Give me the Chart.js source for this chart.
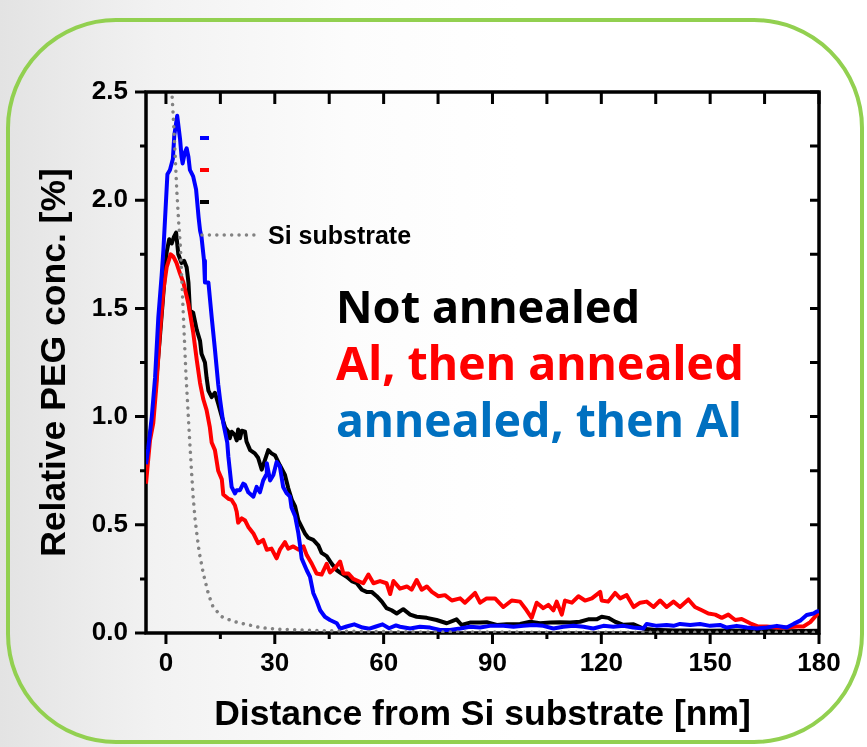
<!DOCTYPE html>
<html>
<head>
<meta charset="utf-8">
<script src="https://cdn.jsdelivr.net/npm/chart.js@4/dist/chart.umd.min.js"></script>
<style>
  html, body { margin: 0; padding: 0; }
  body {
    width: 867px; height: 747px; overflow: hidden; position: relative;
    background: linear-gradient(90deg, #e3e3e3 0%, #f2f2f2 18%, #fcfcfc 40%, #ffffff 60%);
  }
  #border {
    position: absolute; left: 6px; top: 18px; width: 858px; height: 726px;
    box-sizing: border-box; border: 4px solid #92d050; border-radius: 110px;
  }
  #wrap { position: absolute; left: 0; top: 0; width: 867px; height: 747px; }
</style>
</head>
<body>
<div id="border"></div>
<div id="wrap"><canvas id="chart" width="867" height="747"></canvas></div>
<script>
// Depth profiles of relative PEG concentration (%) vs distance from the Si substrate (nm)

const notAnnealedX = [-5.5, -4.4, -3.5, -2.6, -1.7, -0.8, 0.2, 0.9, 1.6, 2.2, 2.8, 3.4, 4.3, 5.0, 5.7, 6.2, 6.6, 7.5, 8.5, 9.4, 9.8, 10.75, 11.2, 11.7, 12.6, 13.5, 14.4, 15.4, 16.3, 17.2, 17.6, 18.1, 19.0, 19.5, 19.9, 20.4, 20.9, 21.8, 22.2, 23.2, 24.5, 25.4, 26.4, 27.3, 28.2, 29.1, 30.1, 31.4, 32.8, 33.7, 34.7, 35.6, 36.5, 37.4, 38.3, 39.2, 40.6, 42.0, 42.9, 44.3, 45.7, 47.1, 48.4, 49.8, 51.2, 52.6, 54.0, 55.3, 56.7, 58.1, 59.5, 60.8, 62.2, 63.6, 65.4, 67.3, 69.1, 71.9, 74.6, 77.4, 80.1, 81.5, 83.8, 86.6, 88.4, 91.2, 93.9, 97.6, 100.4, 103.1, 105.9, 108.6, 111.4, 114.1, 116.4, 118.7, 120.1, 121.9, 123.8, 126.1, 128.9, 131.6, 134.4, 140, 145, 150, 155, 160, 165, 170, 175, 180];
const notAnnealedY = [0.78, 0.91, 1.02, 1.18, 1.36, 1.55, 1.76, 1.82, 1.80, 1.83, 1.85, 1.75, 1.71, 1.72, 1.69, 1.62, 1.49, 1.48, 1.40, 1.35, 1.29, 1.25, 1.18, 1.12, 1.09, 1.11, 1.06, 1.00, 0.95, 0.93, 0.90, 0.93, 0.915, 0.89, 0.94, 0.90, 0.935, 0.93, 0.885, 0.845, 0.83, 0.81, 0.755, 0.80, 0.845, 0.83, 0.82, 0.775, 0.73, 0.67, 0.615, 0.585, 0.52, 0.49, 0.46, 0.44, 0.43, 0.405, 0.37, 0.355, 0.32, 0.29, 0.275, 0.26, 0.24, 0.23, 0.20, 0.19, 0.19, 0.17, 0.145, 0.115, 0.105, 0.09, 0.11, 0.085, 0.075, 0.07, 0.06, 0.045, 0.063, 0.037, 0.048, 0.048, 0.05, 0.037, 0.04, 0.042, 0.052, 0.045, 0.048, 0.05, 0.048, 0.052, 0.063, 0.063, 0.075, 0.07, 0.052, 0.038, 0.04, 0.02, 0.015, 0.012, 0.011, 0.01, 0.012, 0.01, 0.009, 0.008, 0.009, 0.01];

const alThenAnnealedX = [-5.5, -4.9, -4.4, -3.5, -2.6, -1.65, -0.7, 0.2, 1.3, 2.0, 2.9, 3.9, 4.8, 6.2, 7.5, 8.5, 9.4, 10.3, 11.2, 12.1, 12.6, 13.5, 14.4, 15.4, 15.8, 17.2, 18.1, 19.0, 19.5, 19.9, 20.9, 21.8, 22.7, 24.1, 25.4, 26.8, 27.8, 29.1, 30.5, 31.4, 32.8, 33.7, 35.1, 36.5, 37.9, 38.8, 40.2, 41.5, 42.9, 44.3, 45.2, 46.6, 48.0, 48.9, 50.3, 51.6, 53.0, 54.4, 55.8, 57.2, 59.0, 60.8, 61.8, 62.7, 64.5, 66.4, 67.7, 69.1, 70.5, 71.9, 73.3, 75.1, 76.9, 78.8, 81.1, 82.4, 85.2, 86.6, 88.4, 90.7, 93.0, 95.3, 97.6, 99.4, 100.8, 102.2, 104.0, 105.4, 106.8, 107.7, 109.1, 110.0, 111.9, 113.7, 115.5, 117.4, 119.7, 120.1, 121.9, 123.8, 125.2, 127.0, 128.9, 130.7, 132.5, 134.4, 136.2, 138.0, 139.9, 141.7, 144.0, 145.8, 147.7, 149.5, 151.4, 153.2, 155.0, 156.9, 158.7, 161.0, 163.3, 165.6, 168.4, 171.1, 173.9, 175.7, 177.6, 179.4, 180];
const alThenAnnealedY = [0.69, 0.80, 0.89, 0.97, 1.15, 1.39, 1.585, 1.69, 1.75, 1.74, 1.71, 1.66, 1.62, 1.52, 1.39, 1.26, 1.155, 1.08, 1.03, 0.95, 0.88, 0.845, 0.75, 0.71, 0.64, 0.62, 0.615, 0.59, 0.56, 0.51, 0.53, 0.52, 0.49, 0.46, 0.415, 0.43, 0.385, 0.39, 0.345, 0.385, 0.42, 0.39, 0.40, 0.385, 0.40, 0.36, 0.32, 0.275, 0.27, 0.32, 0.28, 0.30, 0.33, 0.275, 0.275, 0.25, 0.24, 0.23, 0.27, 0.23, 0.24, 0.23, 0.18, 0.24, 0.205, 0.215, 0.20, 0.245, 0.20, 0.215, 0.19, 0.17, 0.175, 0.15, 0.16, 0.14, 0.185, 0.14, 0.16, 0.16, 0.12, 0.15, 0.145, 0.105, 0.07, 0.14, 0.115, 0.13, 0.105, 0.145, 0.085, 0.15, 0.14, 0.17, 0.15, 0.16, 0.19, 0.15, 0.145, 0.185, 0.16, 0.175, 0.12, 0.14, 0.145, 0.12, 0.15, 0.12, 0.145, 0.12, 0.155, 0.12, 0.105, 0.09, 0.085, 0.07, 0.085, 0.06, 0.065, 0.045, 0.03, 0.03, 0.025, 0.025, 0.03, 0.03, 0.05, 0.085, 0.095];

const annealedThenAlX = [-5.5, -4.9, -3.9, -3.0, -2.1, -1.2, -0.7, 0.4, 1.1, 1.9, 2.3, 3.1, 3.9, 4.3, 4.6, 5.2, 5.7, 6.2, 6.6, 7.5, 8.3, 9.0, 9.4, 9.8, 10.5, 10.75, 11.7, 12.6, 13.5, 14.4, 14.9, 15.8, 16.9, 17.2, 18.1, 19.0, 19.5, 20.4, 21.3, 21.8, 22.7, 23.4, 24.1, 25.0, 25.9, 26.8, 27.6, 27.8, 28.7, 29.6, 30.5, 31.4, 32.3, 33.3, 34.2, 34.6, 35.6, 36.5, 37.0, 37.4, 38.8, 39.7, 40.6, 41.5, 42.5, 43.8, 45.2, 47.1, 48.0, 49.8, 51.9, 54.2, 56.1, 57.9, 59.7, 61.5, 63.4, 64.5, 67.3, 70.0, 72.8, 75.5, 78.3, 81.1, 83.8, 86.6, 89.3, 93.0, 95.8, 98.5, 101.3, 104.0, 106.8, 109.5, 112.3, 115.1, 117.8, 120.6, 123.3, 126.1, 128.8, 131.6, 132.5, 135.3, 138.0, 139.9, 141.7, 144.5, 147.2, 150.0, 152.7, 154.6, 157.3, 160.1, 162.9, 165.6, 168.4, 171.1, 173.0, 174.8, 176.6, 178.5, 179.4, 180];
const annealedThenAlY = [0.78, 0.85, 1.00, 1.18, 1.46, 1.65, 1.77, 2.12, 2.14, 2.19, 2.30, 2.39, 2.28, 2.20, 2.17, 2.22, 2.24, 2.20, 2.14, 2.11, 2.05, 1.92, 1.86, 1.83, 1.72, 1.62, 1.62, 1.46, 1.31, 1.15, 1.08, 0.97, 0.88, 0.815, 0.675, 0.645, 0.66, 0.66, 0.69, 0.685, 0.65, 0.64, 0.63, 0.675, 0.65, 0.705, 0.73, 0.785, 0.705, 0.73, 0.79, 0.77, 0.675, 0.645, 0.63, 0.58, 0.54, 0.46, 0.40, 0.345, 0.29, 0.26, 0.185, 0.15, 0.105, 0.075, 0.06, 0.045, 0.02, 0.03, 0.04, 0.025, 0.02, 0.03, 0.04, 0.022, 0.035, 0.029, 0.021, 0.029, 0.025, 0.014, 0.014, 0.021, 0.029, 0.025, 0.033, 0.033, 0.029, 0.033, 0.037, 0.033, 0.021, 0.029, 0.033, 0.029, 0.021, 0.033, 0.029, 0.033, 0.025, 0.021, 0.042, 0.033, 0.037, 0.033, 0.042, 0.037, 0.042, 0.033, 0.037, 0.025, 0.033, 0.025, 0.021, 0.025, 0.033, 0.025, 0.042, 0.057, 0.083, 0.09, 0.099, 0.10];

const siSubstrateX = [1.2, 1.7, 2.0, 2.5, 3.0, 3.5, 4.0, 4.5, 5.0, 5.5, 6.0, 6.5, 7.0, 7.5, 8.0, 8.5, 9.2, 10.3, 11.7, 13.0, 15.4, 17.6, 19.9, 22.2, 25.9, 31.4, 38.8, 50, 70, 100, 140, 180];
const siSubstrateY = [2.75, 2.48, 2.39, 2.22, 2.04, 1.90, 1.78, 1.58, 1.39, 1.20, 1.05, 0.90, 0.76, 0.63, 0.53, 0.46, 0.37, 0.275, 0.18, 0.12, 0.075, 0.06, 0.048, 0.04, 0.025, 0.017, 0.013, 0.008, 0.005, 0.004, 0.003, 0.003];

// Axis ticks
const xTickValues = [0, 30, 60, 90, 120, 150, 180];
const xMinorValues = [15, 45, 75, 105, 135, 165];
const yTickValues = [0, 0.5, 1.0, 1.5, 2.0, 2.5];
const yMinorValues = [0.25, 0.75, 1.25, 1.75, 2.25];

// Labels
const seriesLabels = ['Not annealed', 'Al, then annealed', 'annealed, then Al'];
const seriesColors = ['#000000', '#ff0000', '#0000ff'];
const captionColors = ['#000000', '#ff0000', '#0070c0'];
const refLabel = 'Si substrate';

const pts = (xs, ys) => xs.map((x, i) => ({ x, y: ys[i] }));
const AXIS_FONT = '"Liberation Sans", Arial, sans-serif';
const DOT_GREY = '#828282';
const DOTS = [0.01, 7.4];

// Box frame with Origin-style ticks on all four sides (curves are drawn over it)
const axisFrame = {
  id: 'axisFrame',
  beforeDatasetsDraw(chart) {
    const { ctx, chartArea: a, scales: { x, y } } = chart;
    ctx.save();
    ctx.strokeStyle = '#000';
    ctx.lineCap = 'butt';
    ctx.lineWidth = 3;
    ctx.beginPath();
    xTickValues.forEach(v => { const p = x.getPixelForValue(v); ctx.moveTo(p, a.bottom); ctx.lineTo(p, a.bottom + 11); });
    xMinorValues.forEach(v => { const p = x.getPixelForValue(v); ctx.moveTo(p, a.bottom); ctx.lineTo(p, a.bottom + 6); });
    xTickValues.concat(xMinorValues).forEach(v => { const p = x.getPixelForValue(v); ctx.moveTo(p, a.top); ctx.lineTo(p, a.top + 12); });
    yTickValues.forEach(v => { const p = y.getPixelForValue(v); ctx.moveTo(a.left, p); ctx.lineTo(a.left - 11, p); });
    yMinorValues.forEach(v => { const p = y.getPixelForValue(v); ctx.moveTo(a.left, p); ctx.lineTo(a.left - 6, p); });
    yTickValues.concat(yMinorValues).forEach(v => { const p = y.getPixelForValue(v); ctx.moveTo(a.right, p); ctx.lineTo(a.right - 9, p); });
    ctx.stroke();
    ctx.lineWidth = 3.5;
    ctx.strokeRect(a.left, a.top, a.right - a.left, a.bottom - a.top);
    ctx.restore();
  }
};

// Legend marks and the large captions
const captions = {
  id: 'captions',
  afterDraw(chart) {
    const { ctx, chartArea: a } = chart;
    ctx.save();
    ctx.lineWidth = 4;
    ctx.lineCap = 'butt';
    [2, 1, 0].forEach((s, i) => {
      ctx.strokeStyle = seriesColors[s];
      ctx.beginPath();
      ctx.moveTo(a.left + 54, a.top + 46 + i * 32);
      ctx.lineTo(a.left + 63, a.top + 46 + i * 32);
      ctx.stroke();
    });
    ctx.strokeStyle = DOT_GREY;
    ctx.lineWidth = 3.5;
    ctx.lineCap = 'round';
    ctx.setLineDash(DOTS);
    ctx.beginPath();
    ctx.moveTo(a.left + 56, a.top + 143);
    ctx.lineTo(a.left + 112, a.top + 143);
    ctx.stroke();
    ctx.setLineDash([]);
    ctx.fillStyle = '#000';
    ctx.font = 'bold 25px ' + AXIS_FONT;
    ctx.textBaseline = 'middle';
    ctx.textAlign = 'left';
    ctx.fillText(refLabel, a.left + 122, a.top + 145);

    const widths = [304, 408, 406];
    const baselines = [231, 288, 345];
    ctx.textBaseline = 'alphabetic';
    seriesLabels.forEach((t, i) => {
      ctx.font = 'bold 44px "Comic Sans MS", "Noto Sans", sans-serif';
      const w = ctx.measureText(t).width;
      const size = 44 * widths[i] / w;
      ctx.font = 'bold ' + size.toFixed(1) + 'px "Comic Sans MS", "Noto Sans", sans-serif';
      ctx.fillStyle = captionColors[i];
      ctx.fillText(t, a.left + 190, a.top + baselines[i]);
    });
    ctx.restore();
  }
};

const lineSet = (label, xs, ys, color) => ({
  label, data: pts(xs, ys), borderColor: color, borderWidth: 4,
  showLine: true, pointRadius: 0, tension: 0, fill: false, borderJoinStyle: 'round'
});

new Chart(document.getElementById('chart'), {
  type: 'scatter',
  data: {
    datasets: [
      Object.assign(lineSet(refLabel, siSubstrateX, siSubstrateY, DOT_GREY),
        { borderWidth: 3.5, borderDash: DOTS, borderCapStyle: 'round' }),
      lineSet(seriesLabels[2], annealedThenAlX, annealedThenAlY, seriesColors[2]),
      lineSet(seriesLabels[1], alThenAnnealedX, alThenAnnealedY, seriesColors[1]),
      lineSet(seriesLabels[0], notAnnealedX, notAnnealedY, seriesColors[0])
    ]
  },
  options: {
    responsive: false,
    animation: false,
    layout: { padding: { top: 92, right: 48, bottom: 0, left: 0 } },
    plugins: { legend: { display: false }, tooltip: { enabled: false } },
    scales: {
      x: {
        type: 'linear', min: -5.5, max: 180,
        grid: { display: false, drawTicks: false },
        border: { display: false },
        afterBuildTicks: s => { s.ticks = xTickValues.map(v => ({ value: v })); },
        afterFit: s => { s.height = 114; },
        ticks: { padding: 15, color: '#000', font: { family: AXIS_FONT, size: 26, weight: 'bold' },
                 callback: v => String(v), maxRotation: 0, autoSkip: false },
        title: { display: true, text: 'Distance from Si substrate [nm]', color: '#000',
                 font: { family: AXIS_FONT, size: 35.5, weight: 'bold' }, padding: { top: 0, bottom: 10 } }
      },
      y: {
        type: 'linear', min: 0, max: 2.5,
        grid: { display: false, drawTicks: false },
        border: { display: false },
        afterBuildTicks: s => { s.ticks = yTickValues.map(v => ({ value: v })); },
        afterFit: s => { s.width = 146; },
        ticks: { padding: 18, color: '#000', font: { family: AXIS_FONT, size: 26, weight: 'bold' },
                 callback: v => Number(v).toFixed(1), autoSkip: false },
        title: { display: true, text: 'Relative PEG conc. [%]', color: '#000',
                 font: { family: AXIS_FONT, size: 35.5, weight: 'bold' }, padding: { top: 34, bottom: 0 } }
      }
    }
  },
  plugins: [axisFrame, captions]
});
</script>
</body>
</html>
